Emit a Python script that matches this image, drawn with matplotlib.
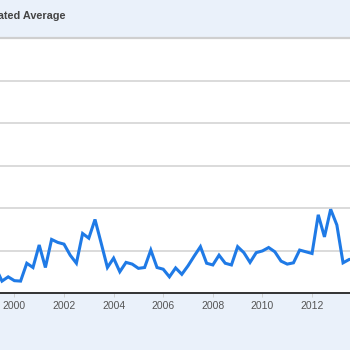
import numpy as np
import matplotlib.pyplot as plt

# quarterly search interest, in gridline units
quarters = np.arange(1999.25, 2013.76, 0.25)
interest = [0.59, 0.28, 0.38, 0.29, 0.28, 0.70, 0.60, 1.13, 0.60, 1.26, 1.19,
            1.15, 0.89, 0.70, 1.40, 1.29, 1.73, 1.17, 0.60, 0.82, 0.50, 0.72,
            0.68, 0.58, 0.60, 1.01, 0.60, 0.56, 0.38, 0.59, 0.44, 0.64, 0.87,
            1.09, 0.70, 0.66, 0.89, 0.70, 0.66, 1.09, 0.95, 0.72, 0.95, 0.99,
            1.07, 0.97, 0.75, 0.68, 0.71, 1.01, 0.97, 0.93, 1.84, 1.32, 1.97,
            1.60, 0.71, 0.79, 0.80]
year_ticks = [2000, 2002, 2004, 2006, 2008, 2010, 2012]
title = "Estimated Average"

plt.rcParams['font.family'] = ['Liberation Sans', 'DejaVu Sans']

band = '#eaf1fa'
fig = plt.figure(figsize=(3.5, 3.5), dpi=100, facecolor=band)
ax = fig.add_axes([0, 57 / 350, 1, 255 / 350])
ax.set_facecolor('white')

ax.plot(quarters, interest, color='#1f7ae6', lw=2.2, solid_joinstyle='miter')

ax.set_xlim(1999.42, 2013.53)
ax.set_ylim(0, 6)
ax.set_yticks([1, 2, 3, 4, 5])
ax.yaxis.grid(True, color='#d4d4d4', lw=1.2)
ax.tick_params(axis='y', left=False, labelleft=False)
ax.set_xticks(year_ticks)
ax.set_xticklabels([str(y) for y in year_ticks])
ax.tick_params(axis='x', length=3, width=0.6, color='#cccccc', pad=3,
               labelsize=7.5, labelcolor='#555555')

for side in ('left', 'right'):
    ax.spines[side].set_visible(False)
ax.spines['top'].set_color('#cfcfcf')
ax.spines['top'].set_linewidth(1.6)
ax.spines['bottom'].set_color('#333333')
ax.spines['bottom'].set_linewidth(1.4)

# title runs off the left edge of the panel
fig.text(66 / 350, 1 - 16 / 350, title, ha='right', va='center',
         fontsize=7.8, fontweight='bold', color='#444444')

fig.savefig('out.png', dpi=100, facecolor=band)
